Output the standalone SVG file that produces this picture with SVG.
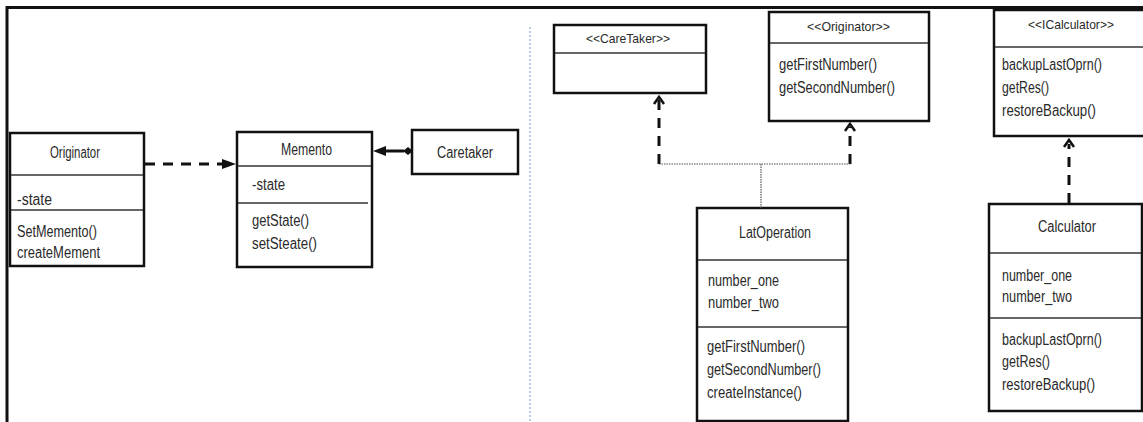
<svg xmlns="http://www.w3.org/2000/svg" width="1143" height="422" viewBox="0 0 1143 422">
<defs>
<style>
.box{fill:#fff;stroke:#111;stroke-width:2.5}
.div{stroke:#333;stroke-width:1.3}
.t{font-family:"Liberation Sans",Arial,sans-serif;font-size:16px;fill:#2a2a2a}
.st{font-size:13.5px}
.dash{fill:none;stroke:#111;stroke-width:3;stroke-dasharray:10 8}
.dot{fill:none;stroke:#555;stroke-width:1.2;stroke-dasharray:1.5 1}
.chev{fill:none;stroke:#111;stroke-width:2.5}
</style>
</defs>
<rect width="1143" height="422" fill="#fff"/>
<path d="M7,422 V7.5 H1143" fill="none" stroke="#111" stroke-width="3"/>
<line x1="530" y1="27" x2="530" y2="422" stroke="#6a9fd8" stroke-width="1" stroke-dasharray="2 2"/>

<g id="originator-left">
<rect class="box" x="10" y="133" width="134" height="133"/>
<line class="div" x1="11" y1="175" x2="143" y2="175"/>
<line class="div" x1="11" y1="210" x2="143" y2="210"/>
<text class="t" x="50" y="158" textLength="50" lengthAdjust="spacingAndGlyphs">Originator</text>
<text class="t" x="17" y="205" textLength="35" lengthAdjust="spacingAndGlyphs">-state</text>
<text class="t" x="17" y="237" textLength="80" lengthAdjust="spacingAndGlyphs">SetMemento()</text>
<text class="t" x="17" y="258" textLength="83" lengthAdjust="spacingAndGlyphs">createMement</text>
</g>

<g id="memento">
<rect class="box" x="237" y="132" width="135" height="135"/>
<line class="div" x1="238" y1="166" x2="371" y2="166"/>
<line class="div" x1="238" y1="203" x2="368" y2="203"/>
<text class="t" x="281" y="155" textLength="51" lengthAdjust="spacingAndGlyphs">Memento</text>
<text class="t" x="252" y="190" textLength="33" lengthAdjust="spacingAndGlyphs">-state</text>
<text class="t" x="252" y="226" textLength="57" lengthAdjust="spacingAndGlyphs">getState()</text>
<text class="t" x="252" y="249" textLength="65" lengthAdjust="spacingAndGlyphs">setSteate()</text>
</g>

<g id="caretaker-left">
<rect class="box" x="412" y="130" width="106" height="44"/>
<text class="t" x="437" y="158" textLength="56" lengthAdjust="spacingAndGlyphs">Caretaker</text>
</g>

<g id="caretaker-stereo">
<rect class="box" x="554" y="25" width="152" height="68"/>
<line class="div" x1="555" y1="53" x2="705" y2="53"/>
<text class="t st" x="586" y="43" textLength="84" lengthAdjust="spacingAndGlyphs">&lt;&lt;CareTaker&gt;&gt;</text>
</g>

<g id="originator-stereo">
<rect class="box" x="769" y="12" width="160" height="109"/>
<line class="div" x1="770" y1="43" x2="928" y2="43"/>
<text class="t st" x="807" y="31" textLength="83" lengthAdjust="spacingAndGlyphs">&lt;&lt;Originator&gt;&gt;</text>
<text class="t" x="779" y="70" textLength="98" lengthAdjust="spacingAndGlyphs">getFirstNumber()</text>
<text class="t" x="779" y="93" textLength="116" lengthAdjust="spacingAndGlyphs">getSecondNumber()</text>
</g>

<g id="icalculator">
<rect class="box" x="994" y="10" width="152" height="126"/>
<line class="div" x1="995" y1="47" x2="1143" y2="47"/>
<text class="t st" x="1028" y="29" textLength="86" lengthAdjust="spacingAndGlyphs">&lt;&lt;ICalculator&gt;&gt;</text>
<text class="t" x="1002" y="70" textLength="100" lengthAdjust="spacingAndGlyphs">backupLastOprn()</text>
<text class="t" x="1002" y="93" textLength="47" lengthAdjust="spacingAndGlyphs">getRes()</text>
<text class="t" x="1002" y="116" textLength="94" lengthAdjust="spacingAndGlyphs">restoreBackup()</text>
</g>

<g id="latoperation">
<rect class="box" x="697" y="208" width="151" height="213"/>
<line class="div" x1="698" y1="260" x2="847" y2="260"/>
<line class="div" x1="698" y1="327" x2="847" y2="327"/>
<text class="t" x="739" y="238" textLength="72" lengthAdjust="spacingAndGlyphs">LatOperation</text>
<text class="t" x="708" y="286" textLength="71" lengthAdjust="spacingAndGlyphs">number_one</text>
<text class="t" x="708" y="308" textLength="71" lengthAdjust="spacingAndGlyphs">number_two</text>
<text class="t" x="707" y="352" textLength="98" lengthAdjust="spacingAndGlyphs">getFirstNumber()</text>
<text class="t" x="707" y="375" textLength="114" lengthAdjust="spacingAndGlyphs">getSecondNumber()</text>
<text class="t" x="707" y="398" textLength="95" lengthAdjust="spacingAndGlyphs">createInstance()</text>
</g>

<g id="calculator">
<rect class="box" x="989" y="204" width="153" height="207"/>
<line class="div" x1="990" y1="253" x2="1141" y2="253"/>
<line class="div" x1="990" y1="318" x2="1141" y2="318"/>
<text class="t" x="1038" y="232" textLength="58" lengthAdjust="spacingAndGlyphs">Calculator</text>
<text class="t" x="1002" y="281" textLength="70" lengthAdjust="spacingAndGlyphs">number_one</text>
<text class="t" x="1002" y="302" textLength="70" lengthAdjust="spacingAndGlyphs">number_two</text>
<text class="t" x="1002" y="345" textLength="100" lengthAdjust="spacingAndGlyphs">backupLastOprn()</text>
<text class="t" x="1002" y="367" textLength="48" lengthAdjust="spacingAndGlyphs">getRes()</text>
<text class="t" x="1002" y="390" textLength="93" lengthAdjust="spacingAndGlyphs">restoreBackup()</text>
</g>

<g id="connectors">
<line class="dash" x1="145" y1="164" x2="222" y2="164"/>
<polygon points="236,164 222,159 222,169" fill="#111"/>
<line x1="384" y1="151" x2="404" y2="151" stroke="#111" stroke-width="3"/>
<polygon points="373,151 386,146 386,156" fill="#111"/>
<polygon points="403,151 408,147 413,151 408,155" fill="#111"/>
<line class="dash" x1="659" y1="164" x2="659" y2="99"/>
<polyline class="chev" points="654,104 659,97 664,104"/>
<line class="dash" x1="850" y1="164" x2="850" y2="127"/>
<polyline class="chev" points="845,131 850,124 855,131"/>
<polyline class="dot" points="659,164 850,164"/>
<line class="dot" x1="761" y1="164" x2="761" y2="208"/>
<line class="dash" x1="1069" y1="203" x2="1069" y2="144"/>
<polyline class="chev" points="1064,147 1069,140 1074,147"/>
</g>
</svg>
